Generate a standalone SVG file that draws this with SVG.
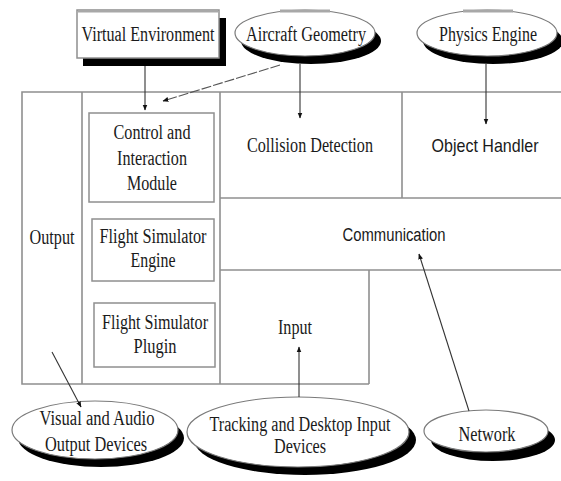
<svg xmlns="http://www.w3.org/2000/svg" width="561" height="481" viewBox="0 0 561 481">
  <style>
    .frame { fill: none; stroke: #8f8f8f; stroke-width: 1.6; }
    .box { fill: #fff; stroke: #8f8f8f; stroke-width: 1.5; }
    .oval { fill: #fff; stroke: #7a7a7a; stroke-width: 1.2; }
    .shadow { fill: #000; }
    .hl { stroke: #a8a8a8; stroke-width: 3; }
    .serif { font-family: "Liberation Serif", "Times New Roman", serif; font-size: 20px; fill: #1a1a1a; text-anchor: middle; }
    .sans { font-family: "Liberation Sans", Arial, sans-serif; font-size: 18px; fill: #1a1a1a; text-anchor: middle; }
    .link { fill: none; stroke: #333; stroke-width: 1.1; }
    .dash { stroke-dasharray: 10 2; stroke: #555; }
  </style>
  <defs>
    <marker id="arrow" viewBox="0 0 10 10" refX="9" refY="5" markerWidth="6" markerHeight="6" orient="auto" markerUnits="userSpaceOnUse">
      <path d="M0,1 L10,5 L0,9 Z" fill="#111"/>
    </marker>
  </defs>

  <rect width="561" height="481" fill="#fff"/>

  <!-- system frame and its partitions -->
  <g id="frame" class="frame">
    <path d="M561,92 H22 V384 H369"/>
    <line x1="82" y1="92" x2="82" y2="384"/>
    <line x1="220" y1="92" x2="220" y2="384"/>
    <line x1="402" y1="92" x2="402" y2="198"/>
    <line x1="220" y1="198" x2="561" y2="198"/>
    <line x1="220" y1="270" x2="561" y2="270"/>
    <line x1="369" y1="270" x2="369" y2="384"/>
  </g>

  <!-- external sources -->
  <g id="virtual-environment">
    <rect class="shadow" x="83" y="18" width="143" height="48"/>
    <rect class="box" x="77" y="10" width="142" height="48"/>
    <line class="hl" x1="78" y1="11" x2="218" y2="11"/>
    <text class="serif" x="148" y="41" textLength="133" lengthAdjust="spacingAndGlyphs">Virtual Environment</text>
  </g>

  <g id="aircraft-geometry">
    <ellipse class="shadow" cx="311" cy="41" rx="70" ry="23"/>
    <ellipse class="oval" cx="305" cy="33" rx="70" ry="23"/>
    <line class="hl" x1="280" y1="11" x2="330" y2="11"/>
    <text class="serif" x="306" y="41" textLength="120" lengthAdjust="spacingAndGlyphs">Aircraft Geometry</text>
  </g>

  <g id="physics-engine">
    <ellipse class="shadow" cx="493" cy="41" rx="70" ry="23"/>
    <ellipse class="oval" cx="487" cy="33" rx="70" ry="23"/>
    <line class="hl" x1="463" y1="11" x2="513" y2="11"/>
    <text class="serif" x="488" y="41" textLength="98" lengthAdjust="spacingAndGlyphs">Physics Engine</text>
  </g>

  <!-- internal modules -->
  <g id="output">
    <text class="serif" x="52" y="244" textLength="45" lengthAdjust="spacingAndGlyphs">Output</text>
  </g>

  <g id="control-interaction">
    <rect class="box" x="89" y="113" width="125" height="89"/>
    <text class="serif" x="152" y="139" textLength="77" lengthAdjust="spacingAndGlyphs">Control and</text>
    <text class="serif" x="152" y="165" textLength="70" lengthAdjust="spacingAndGlyphs">Interaction</text>
    <text class="serif" x="152" y="190" textLength="50" lengthAdjust="spacingAndGlyphs">Module</text>
  </g>

  <g id="flight-simulator-engine">
    <rect class="box" x="92" y="219" width="122" height="62"/>
    <text class="serif" x="153" y="243" textLength="107" lengthAdjust="spacingAndGlyphs">Flight Simulator</text>
    <text class="serif" x="153" y="267" textLength="45" lengthAdjust="spacingAndGlyphs">Engine</text>
  </g>

  <g id="flight-simulator-plugin">
    <rect class="box" x="94" y="303" width="121" height="64"/>
    <text class="serif" x="155" y="329" textLength="106" lengthAdjust="spacingAndGlyphs">Flight Simulator</text>
    <text class="serif" x="155" y="353" textLength="43" lengthAdjust="spacingAndGlyphs">Plugin</text>
  </g>

  <g id="collision-detection">
    <text class="serif" x="310" y="152" textLength="126" lengthAdjust="spacingAndGlyphs">Collision Detection</text>
  </g>

  <g id="object-handler">
    <text class="sans" x="485" y="152" style="font-size:19px" textLength="107" lengthAdjust="spacingAndGlyphs">Object Handler</text>
  </g>

  <g id="communication">
    <text class="sans" x="394" y="241" textLength="103" lengthAdjust="spacingAndGlyphs">Communication</text>
  </g>

  <g id="input">
    <text class="serif" x="295" y="334" textLength="34" lengthAdjust="spacingAndGlyphs">Input</text>
  </g>

  <!-- external devices -->
  <g id="visual-audio-devices">
    <ellipse class="shadow" cx="101" cy="438" rx="83" ry="29"/>
    <ellipse class="oval" cx="95" cy="430" rx="83" ry="29"/>
    <text class="serif" x="97" y="425" textLength="115" lengthAdjust="spacingAndGlyphs">Visual and Audio</text>
    <text class="serif" x="96" y="451" textLength="102" lengthAdjust="spacingAndGlyphs">Output Devices</text>
  </g>

  <g id="tracking-input-devices">
    <ellipse class="shadow" cx="305" cy="440" rx="111" ry="35"/>
    <ellipse class="oval" cx="298" cy="432" rx="111" ry="35"/>
    <text class="serif" x="300" y="431" textLength="181" lengthAdjust="spacingAndGlyphs">Tracking and Desktop Input</text>
    <text class="serif" x="300" y="453" textLength="52" lengthAdjust="spacingAndGlyphs">Devices</text>
  </g>

  <g id="network">
    <ellipse class="shadow" cx="493" cy="440" rx="62" ry="21"/>
    <ellipse class="oval" cx="486" cy="431" rx="62" ry="21"/>
    <text class="serif" x="487" y="441" textLength="57" lengthAdjust="spacingAndGlyphs">Network</text>
  </g>

  <!-- connectors -->
  <g id="connectors" class="link">
    <line x1="145" y1="66" x2="145" y2="110" marker-end="url(#arrow)"/>
    <line class="dash" x1="280" y1="65" x2="163" y2="101" marker-end="url(#arrow)"/>
    <line x1="300" y1="64" x2="300" y2="118" marker-end="url(#arrow)"/>
    <line x1="486" y1="64" x2="486" y2="124" marker-end="url(#arrow)"/>
    <line x1="52" y1="352" x2="81" y2="407" marker-end="url(#arrow)"/>
    <line x1="299" y1="397" x2="299" y2="347" marker-end="url(#arrow)"/>
    <line x1="469" y1="411" x2="419" y2="254" marker-end="url(#arrow)"/>
  </g>
</svg>
